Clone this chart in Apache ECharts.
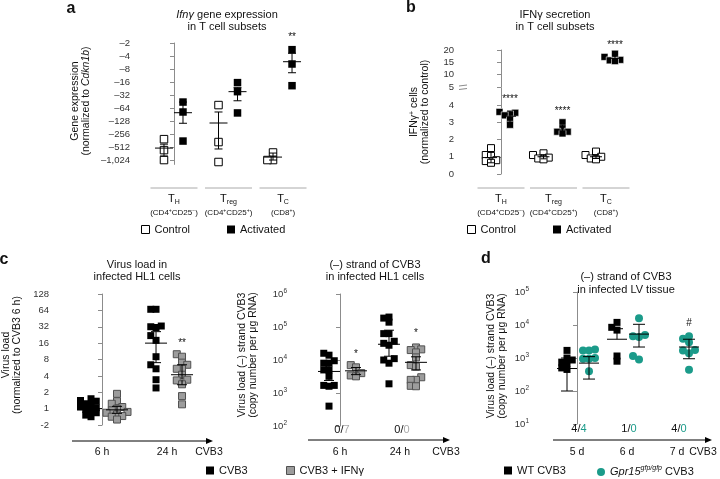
<!DOCTYPE html>
<html><head><meta charset="utf-8">
<script src="https://cdn.jsdelivr.net/npm/echarts/dist/echarts.min.js"></script>
<style>html,body{margin:0;padding:0;background:#fff}#c{width:720px;height:479px}</style>
</head><body><div id="c"></div>
<script>
// ================= DATA =================
// Panel a: Ifnγ gene expression (normalized to Cdkn1b), fold (negative)
const aGroupSubs = ['H', 'reg', 'C'];
const aGroupMarkers = [['CD4', '+', 'CD25', '−'], ['CD4', '+', 'CD25', '+'], ['CD8', '+']];
const aYTicks = [-2, -4, -8, -16, -32, -64, -128, -256, -512, -1024];
const aControl = [[-330, -590, -1000], [-54, -385, -1110], [-670, -1000, -1000]];
const aActivated = [[-46, -78, -365], [-16.4, -26.5, -82], [-2.85, -6.1, -19.3]];
const aControlMean = [-530, -140, -855];
const aControlErr = [[-430, -810], [-78, -556], [-690, -1000]];
const aActivatedMean = [-81, -26.5, -5.4];
const aActivatedErr = [[-46, -142], [-21.4, -43], [-3.45, -9.7]];

// Panel b: IFNγ secretion (IFNγ+ cells normalized to control)
const bYTicksLow = [0, 1, 2, 3, 4];
const bYTicksHigh = [5, 10, 15, 20];
const bControl = [[1.5, 1.1, 1.05, 0.8, 0.75, 0.65], [1.2, 1.1, 0.95, 0.9, 0.85], [1.3, 1.1, 1.0, 0.9, 0.85]];
const bActivated = [[3.6, 3.55, 3.45, 3.4, 3.15, 2.85], [3.0, 2.65, 2.45, 2.45, 2.35], [18.5, 17.2, 16.0, 15.8, 15.5]];
const bControlMean = [0.95, 1.0, 1.0];
const bControlErr = [[0.65, 1.3], [0.88, 1.12], [0.9, 1.12]];
const bActivatedMean = [3.35, 2.55, 16.6];
const bActivatedErr = [[3.0, 3.65], [2.3, 2.85], [15.9, 17.5]];
const bStars = ['****', '****', '****'];

// Panel c (left): virus load, normalized to CVB3 6 h
const cTimes = ['6 h', '24 h'];
const c1YTicks = [-2, 1, 2, 4, 8, 16, 32, 64, 128];
const c1CVB3 = [[1.52, 1.41, 1.37, 1.23, 1.15, 1.07, 1.04, 0.97, 0.9, 0.84, 0.76, 0.71],
                [67, 67, 33, 32, 31, 22, 18, 9, 6.4, 5.4, 3.4, 2.4]];
const c1IFN = [[1.87, 1.37, 1.23, 1.07, 1.0, 0.93, 0.87, 0.84, 0.78, 0.73, 0.71, 0.63],
               [10, 9, 7, 6.4, 5.4, 5.4, 4.2, 3.4, 3.3, 2.8, 1.7, 1.2]];
const c1CVB3Mean = [1.0, 16];
const c1CVB3Err = [[0.88, 1.15], [7, 26]];
const c1IFNMean = [0.95, 4.2];
const c1IFNErr = [[0.82, 1.1], [2.75, 6.4]];

// Panel c (right): (−) strand of CVB3, copy number per µg RNA
const c2YTicks = [1e2, 1e3, 1e4, 1e5, 1e6];
const c2CVB3 = [[16000, 14000, 9500, 8000, 8000, 5000, 5000, 3200, 1700, 1700, 1600, 400],
                [200000, 186000, 140000, 63000, 63000, 37000, 32000, 28000, 11000, 10000, 8000, 1900]];
const c2IFN = [[7000, 6000, 4000, 3400, 3200],
               [24000, 21000, 20000, 17000, 12000, 7000, 6300, 3000, 2500, 2500, 1650, 1600]];
const c2CVB3Mean = [4500, 30000];
const c2CVB3Err = [[2400, 8500], [13000, 80000]];
const c2IFNMean = [4700, 8500];
const c2IFNErr = [[3600, 5900], [5000, 12500]];
const c2Positive = [[0, 7], [0, 0]];

// Panel d: (−) strand of CVB3 in infected LV tissue
const dDays = ['5 d', '6 d', '7 d'];
const dYTicks = [1e1, 1e2, 1e3, 1e4, 1e5];
const dWT = [[1700, 1000, 870, 750, 700, 500, 450], [12000, 8500, 7000, 1150, 800], []];
const dKO = [[1800, 1700, 1700, 1000, 950, 950, 400], [16000, 5000, 4600, 4300, 1150, 900],
             [4600, 3800, 3000, 1750, 1700, 1400, 440]];
const dWTMean = [480, 3700, null];
const dWTErr = [[100, 1000], [null, 7700], null];
const dKOMean = [700, 5300, 2150];
const dKOErr = [[230, 1100], [2150, 10500], [950, 3700]];
const dPositive = [[4, 4], [1, 0], [4, 0]];

// ================= STYLE / LAYOUT =================
const FONT = '"Liberation Sans", Arial, sans-serif';
const INK = '#111';
const AXIS = '#8c8c8c';
const GREY = '#9c9c9c';
const TEAL = '#1b9b8a';

const chart = echarts.init(document.getElementById('c'), null, {renderer: 'canvas', width: 720, height: 479});

const G = [
  {left: 136, top: 43, width: 174, height: 121.4},      // a
  {left: 463, top: 50, width: 177, height: 37},         // b upper
  {left: 463, top: 87.75, width: 177, height: 86.25},   // b lower
  {left: 58, top: 294, width: 157, height: 131},        // c left
  {left: 297, top: 294, width: 155, height: 132},       // c right
  {left: 538, top: 292, width: 180, height: 132}        // d
];
const XR = [[-0.697, 2.495], [-0.724, 2.648], [-0.724, 2.648], [-0.677, 1.738], [-0.717, 1.867], [-0.78, 2.82]];
const XPU = G.map((g, i) => g.width / (XR[i][1] - XR[i][0]));
const YR = [[1, 10.3], [5, 20], [0, 5], [-1, 7], [2, 6], [1, 5]];
const YPU = G.map((g, i) => g.height / (YR[i][1] - YR[i][0]));
const LMARGIN = [6, 9, 9, 9, 10, 9];

const L2 = v => Math.log2(v);
const L2n = v => Math.log2(-v);
const L10 = v => Math.log10(v);
const ID = v => v;

function swarm(ys, ypu, size) {
  const py = ys.map(y => y * ypu);
  const order = py.map((_, i) => i).sort((a, b) => py[a] - py[b]);
  const placed = [], off = new Array(ys.length).fill(0);
  const step = size * 0.75, thr = size * 0.7;
  order.forEach(i => {
    let best = 0;
    for (let k = 0; k < 14; k++) {
      const cand = k === 0 ? 0 : (k % 2 ? -1 : 1) * Math.ceil(k / 2) * step;
      if (placed.every(p => Math.abs(p.x - cand) >= thr || Math.abs(p.y - py[i]) >= thr)) { best = cand; break; }
    }
    placed.push({x: best, y: py[i]});
    off[i] = best;
  });
  return off;
}

function strip(name, gi, groups, tf, offPx, size, symbol, itemStyle) {
  const data = [];
  groups.forEach((vals, g) => {
    if (!vals || !vals.length) return;
    const ys = vals.map(tf);
    const sw = swarm(ys, YPU[gi], size);
    ys.forEach((y, i) => data.push([g + (offPx + sw[i]) / XPU[gi], y]));
  });
  return {type: 'scatter', name, xAxisIndex: gi, yAxisIndex: gi, data, symbol, symbolSize: size,
          itemStyle: Object.assign({opacity: 1}, itemStyle), z: 2, silent: true, animation: false};
}

const NONE = -9999;
function errBars(gi, means, errs, tf, offPx, halfW, capW) {
  const data = [];
  means.forEach((m, g) => {
    if (m == null) return;
    const e = errs[g] || [null, null];
    data.push([g + offPx / XPU[gi], tf(m), e[0] == null ? NONE : tf(e[0]), e[1] == null ? NONE : tf(e[1])]);
  });
  return {type: 'custom', xAxisIndex: gi, yAxisIndex: gi, data, z: 5, silent: true, animation: false,
    encode: {x: 0, y: 1},
    renderItem: (p, api) => {
      const x = api.value(0), m = api.value(1);
      const pm = api.coord([x, m]);
      const st = {stroke: '#000', lineWidth: 1};
      const ch = [{type: 'line', shape: {x1: pm[0] - halfW, y1: pm[1], x2: pm[0] + halfW, y2: pm[1]}, style: st}];
      [api.value(2), api.value(3)].forEach(e => {
        if (e === NONE || isNaN(e)) return;
        const pe = api.coord([x, e]);
        ch.push({type: 'line', shape: {x1: pm[0], y1: pm[1], x2: pe[0], y2: pe[1]}, style: st});
        ch.push({type: 'line', shape: {x1: pe[0] - capW, y1: pe[1], x2: pe[0] + capW, y2: pe[1]}, style: st});
      });
      return {type: 'group', children: ch};
    }};
}

const comma = n => String(n).replace(/\B(?=(\d{3})+(?!\d))/g, ',');
const supRich = {b: {fontSize: 9.5, color: '#333', fontFamily: FONT, lineHeight: 12},
                 s: {fontSize: 6.5, color: '#333', fontFamily: FONT, verticalAlign: 'top'}};

function yAx(gi, ticks, fmt, extra) {
  return Object.assign({
    type: 'value', gridIndex: gi, min: YR[gi][0], max: YR[gi][1],
    axisLine: {show: true, lineStyle: {color: AXIS, width: 1}},
    axisTick: {show: true, length: 4, lineStyle: {color: AXIS}, customValues: ticks},
    axisLabel: {color: '#333', fontSize: 9.5, fontFamily: FONT, margin: LMARGIN[gi], customValues: ticks, formatter: fmt, rich: supRich},
    splitLine: {show: false}
  }, extra || {});
}

const sCtrl = {color: '#fff', borderColor: '#000', borderWidth: 1};
const sAct = {color: '#000'};
const sActB = {color: '#000', borderColor: '#fff', borderWidth: 0.6};
const sGrey = {color: GREY, borderColor: '#505050', borderWidth: 1};
const sTeal = {color: TEAL};

const series = [
  // a
  strip('Control', 0, aControl, L2n, -10, 7.5, 'rect', sCtrl),
  strip('Activated', 0, aActivated, L2n, 9, 7.5, 'rect', sAct),
  errBars(0, aControlMean, aControlErr, L2n, -10, 9, 4),
  errBars(0, aActivatedMean, aActivatedErr, L2n, 9, 9, 4),
  // b
  strip('Control', 2, bControl, ID, -10, 7, 'rect', sCtrl),
  strip('Activated', 2, [bActivated[0], bActivated[1], []], ID, 9, 7, 'rect', sActB),
  strip('Activated', 1, [[], [], bActivated[2]], ID, 9, 7, 'rect', sActB),
  errBars(2, bControlMean, bControlErr, ID, -10, 6, 3),
  errBars(2, [bActivatedMean[0], bActivatedMean[1], null], bActivatedErr, ID, 9, 6, 3),
  errBars(1, [null, null, bActivatedMean[2]], bActivatedErr, ID, 9, 6, 3),
  // c left
  strip('CVB3', 3, c1CVB3, L2, -11, 7, 'rect', sAct),
  strip('CVB3 + IFNγ', 3, c1IFN, L2, 15, 7, 'rect', sGrey),
  errBars(3, c1CVB3Mean, c1CVB3Err, L2, -11, 11, 5),
  errBars(3, c1IFNMean, c1IFNErr, L2, 15, 11, 5),
  // c right
  strip('CVB3', 4, c2CVB3, L10, -11, 7, 'rect', sAct),
  strip('CVB3 + IFNγ', 4, c2IFN, L10, 16, 7, 'rect', sGrey),
  errBars(4, c2CVB3Mean, c2CVB3Err, L10, -11, 11, 5),
  errBars(4, c2IFNMean, c2IFNErr, L10, 16, 11, 5),
  // d
  strip('WT CVB3', 5, dWT, L10, -10, 7, 'rect', sAct),
  strip('Gpr15 CVB3', 5, dKO, L10, 12, 8, 'circle', sTeal),
  errBars(5, dWTMean, dWTErr, L10, -10, 10, 6),
  errBars(5, dKOMean, dKOErr, L10, 12, 10, 6)
];

function leg(name, left, top, icon) {
  return {data: [name], left, top, icon: icon || 'rect', itemWidth: 8, itemHeight: 8, padding: 0,
    selectedMode: false, itemStyle: {borderWidth: 1, opacity: 1},
    textStyle: {fontSize: 11, fontFamily: FONT, color: INK,
      rich: {i: {fontStyle: 'italic', fontSize: 11, fontFamily: FONT, color: INK},
             s: {fontStyle: 'italic', fontSize: 7, fontFamily: FONT, color: INK, verticalAlign: 'top'},
             n: {fontSize: 11, fontFamily: FONT, color: INK, lineHeight: 14}}},
    formatter: n => n === 'Gpr15 CVB3' ? '{i|Gpr15}{s|gfp/gfp}{n| CVB3}' : n};
}

const option = {
  backgroundColor: '#fff',
  animation: false,
  grid: G.map(g => Object.assign({outerBoundsMode: 'none', containLabel: false}, g)),
  xAxis: G.map((g, i) => ({type: 'value', gridIndex: i, min: XR[i][0], max: XR[i][1], show: false})),
  yAxis: [
    yAx(0, aYTicks.map(L2n), v => '–' + comma(Math.round(Math.pow(2, v))), {inverse: true}),
    yAx(1, bYTicksHigh, v => String(v)),
    yAx(2, bYTicksLow, v => String(v)),
    yAx(3, c1YTicks.map(t => t < 0 ? -L2(-t) : L2(t)), v => v < 0 ? '-' + Math.round(Math.pow(2, -v)) : String(Math.round(Math.pow(2, v)))),
    yAx(4, c2YTicks.map(L10), v => '{b|10}{s|' + Math.round(v) + '}'),
    yAx(5, dYTicks.map(L10), v => '{b|10}{s|' + Math.round(v) + '}')
  ],
  legend: [
    leg('Control', 141, 224), leg('Activated', 227, 224),
    leg('Control', 467, 224), leg('Activated', 553, 224),
    leg('CVB3', 206, 465), leg('CVB3 + IFNγ', 286, 465),
    leg('WT CVB3', 504, 465), leg('Gpr15 CVB3', 597, 465, 'circle')
  ],
  series
};
chart.setOption(option);

// ================= ANNOTATIONS (graphic) =================
const gx = (ai, v) => chart.convertToPixel({xAxisIndex: ai}, v);
const baseRich = (sz) => ({
  n: {fontSize: sz, fontFamily: FONT, fill: INK, color: INK},
  i: {fontSize: sz, fontFamily: FONT, fontStyle: 'italic', fill: INK, color: INK},
  sub: {fontSize: Math.round(sz * 0.68), fontFamily: FONT, fill: INK, color: INK, verticalAlign: 'bottom'},
  sup: {fontSize: Math.max(5, Math.round(sz * 0.62)), fontFamily: FONT, fill: INK, color: INK, verticalAlign: 'top'},
  g: {fontSize: sz, fontFamily: FONT, fill: '#aaa', color: '#aaa'},
  t: {fontSize: sz, fontFamily: FONT, fill: TEAL, color: TEAL}
});
function txt(x, y, text, sz, opt) {
  opt = opt || {};
  return {type: 'text', x, y, rotation: opt.rot || 0, silent: true, z: 10,
    style: {text, fontSize: sz, fontFamily: FONT, fontWeight: opt.bold ? 'bold' : 'normal',
      fill: opt.fill || INK, align: opt.align || 'center', textAlign: opt.align || 'center',
      verticalAlign: 'middle', textVerticalAlign: 'middle', lineHeight: opt.lh || Math.round(sz * 1.15),
      rich: baseRich(sz)}};
}
function line(x1, y1, x2, y2, color) {
  return {type: 'line', silent: true, z: 10, shape: {x1, y1, x2, y2}, style: {stroke: color || '#999', lineWidth: 1}};
}
function arrow(x1, x2, y) {
  return [line(x1, y, x2 - 4, y, '#000'),
    {type: 'polygon', silent: true, z: 10, shape: {points: [[x2, y], [x2 - 7, y - 3], [x2 - 7, y + 3]]}, style: {fill: '#000'}}];
}

const gr = [];
// panel letters
gr.push(txt(71, 9, 'a', 16, {bold: true}), txt(411, 8, 'b', 16, {bold: true}),
        txt(4, 260, 'c', 16, {bold: true}), txt(486, 259, 'd', 16, {bold: true}));
// titles
gr.push(txt(227, 21, '{i|Ifnγ}{n| gene expression}\n{n|in T cell subsets}', 11, {lh: 12.5}));
gr.push(txt(555, 21, 'IFNγ secretion\nin T cell subsets', 11, {lh: 12.5}));
gr.push(txt(137, 271, 'Virus load in\ninfected HL1 cells', 11, {lh: 12.5}));
gr.push(txt(375, 271, '(–) strand of CVB3\nin infected HL1 cells', 11, {lh: 12.5}));
gr.push(txt(626, 283, '(–) strand of CVB3\nin infected LV tissue', 11, {lh: 13}));
// y-axis names
gr.push(txt(81, 101, '{n|Gene expression}\n{n|(normalized to }{i|Cdkn1b}{n|)}', 10.5, {rot: Math.PI / 2, lh: 11}));
gr.push(txt(420, 112, '{n|IFNγ}{sup|+}{n| cells}\n{n|(normalized to control)}', 10.5, {rot: Math.PI / 2, lh: 11}));
gr.push(txt(12, 355, 'Virus load\n(normalized to CVB3 6 h)', 10.5, {rot: Math.PI / 2, lh: 11}));
gr.push(txt(248, 355, 'Virus load (–) strand CVB3\n(copy number per μg RNA)', 10.5, {rot: Math.PI / 2, lh: 11}));
gr.push(txt(497, 356, 'Virus load (–) strand CVB3\n(copy number per μg RNA)', 10.5, {rot: Math.PI / 2, lh: 11}));

// group labels a & b
function markerRich(m) {
  let s = '';
  for (let k = 0; k < m.length; k += 2) s += '{n|' + (k === 0 ? '(' : '') + m[k] + '}{sup|' + m[k + 1] + '}';
  return s + '{n|)}';
}
[0, 2].forEach(ai => {
  aGroupSubs.forEach((s, g) => {
    const cx = gx(ai, g);
    gr.push(line(cx - 23.5, 188, cx + 23.5, 188, '#aaa'));
    gr.push(txt(cx, 199, '{n|T}{sub|' + s + '}', 11, {lh: 13}));
    gr.push(txt(cx, 213, markerRich(aGroupMarkers[g]), 8, {lh: 10}));
  });
});
// stars
gr.push(txt(gx(0, 2 + 9 / XPU[0]), 37, '**', 10));
gr.push(txt(gx(2, 0 + 9 / XPU[2]), 99, bStars[0], 10));
gr.push(txt(gx(2, 1 + 9 / XPU[2]), 111, bStars[1], 10));
gr.push(txt(gx(1, 2 + 9 / XPU[1]), 45, bStars[2], 10));
gr.push(txt(gx(3, 1 + 15 / XPU[3]), 343, '**', 10));
gr.push(txt(gx(4, 0 + 16 / XPU[4]), 354, '*', 10));
gr.push(txt(gx(4, 1 + 16 / XPU[4]), 333, '*', 10));
gr.push(txt(gx(5, 2 + 12 / XPU[5]), 323, '#', 10));

// b axis break
gr.push({type: 'rect', silent: true, z: 9, shape: {x: 460, y: 86, width: 6, height: 3}, style: {fill: '#fff'}});
gr.push(line(459, 86, 467, 85, AXIS), line(459, 89.5, 467, 88.5, AXIS));

// x "axes" with arrows for c and d
gr.push(...arrow(72, 213, 441), ...arrow(308, 450, 440), ...arrow(553, 712, 440));
cTimes.forEach((t, g) => { gr.push(txt(gx(3, g), 452, t, 10.5)); gr.push(txt(gx(4, g), 452, t, 10.5)); });
gr.push(txt(209, 452, 'CVB3', 10.5), txt(446, 452, 'CVB3', 10.5), txt(703, 452, 'CVB3', 10.5));
dDays.forEach((t, g) => gr.push(txt(gx(5, g), 452, t, 10.5)));
c2Positive.forEach((p, g) => gr.push(txt(gx(4, g) + 2, 430, '{n|' + p[0] + '/}{g|' + p[1] + '}', 11)));
dPositive.forEach((p, g) => gr.push(txt(gx(5, g) + 2, 429, '{n|' + p[0] + '/}{t|' + p[1] + '}', 11)));

chart.setOption({graphic: gr});
</script></body></html>
